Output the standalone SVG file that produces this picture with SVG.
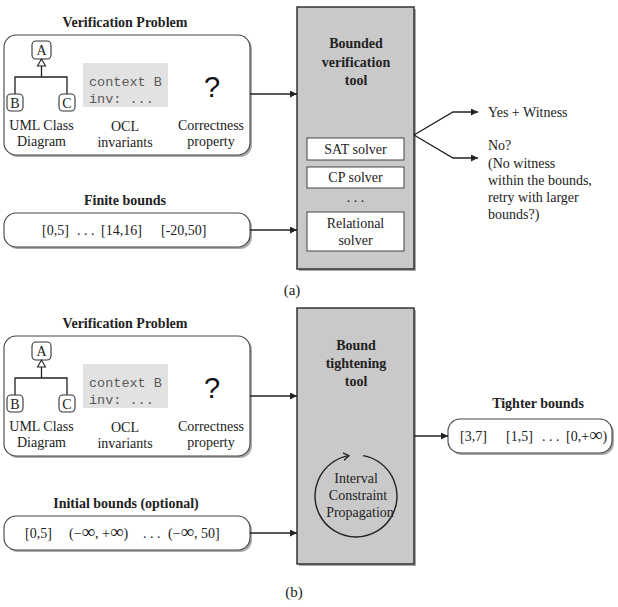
<svg xmlns="http://www.w3.org/2000/svg" width="618" height="607" viewBox="0 0 618 607">
<style>
text{font-family:"Liberation Serif","Times New Roman",serif;font-size:14px;fill:#222}
.b{font-weight:bold}
.m{text-anchor:middle}
.code{font-family:"Liberation Mono","Courier New",monospace;font-size:13.5px;fill:#5a5a5a}
.q{font-family:"Liberation Sans",Arial,sans-serif;font-size:29px;fill:#111}
.inf{font-size:19px}
.rb{fill:#fff;stroke:#444;stroke-width:1.1}
.sh{fill:#aaa}
.cls{fill:#fff;stroke:#333;stroke-width:1.1}
.ln{fill:none;stroke:#222;stroke-width:1.3}
.tool{fill:#c9c9c9;stroke:#333;stroke-width:1.5}
.sv{fill:#fff;stroke:#444;stroke-width:1}
</style>
<defs>
<marker id="ah" markerUnits="userSpaceOnUse" markerWidth="8" markerHeight="8" refX="7" refY="3.5" orient="auto"><path d="M0,0 L7,3.5 L0,7 z" fill="#222"/></marker>
<marker id="oa" markerUnits="userSpaceOnUse" markerWidth="10" markerHeight="10" refX="6" refY="4" orient="auto"><path d="M0,0 L6,4 L0,8" fill="none" stroke="#222" stroke-width="1.3"/></marker>
<g id="vp">
<text class="b m" x="125" y="27">Verification Problem</text>
<rect class="sh" x="6" y="37" width="246" height="120" rx="12"/>
<rect class="rb" x="4" y="35" width="246" height="120" rx="12"/>
<rect class="cls" x="32" y="41" width="19" height="18" rx="4"/>
<text class="m" x="41.5" y="55">A</text>
<path d="M41.5,59 L37.5,66 L45.5,66 z" fill="#fff" stroke="#222" stroke-width="1.1"/>
<path class="ln" d="M41.5,66 V77 M15,94 V77 H67 V94"/>
<rect class="cls" x="7" y="94" width="16" height="17" rx="4"/>
<text class="m" x="15" y="108">B</text>
<rect class="cls" x="59" y="94" width="16" height="17" rx="4"/>
<text class="m" x="67" y="108">C</text>
<rect x="83" y="63" width="85" height="44" fill="#e2e2e2"/>
<text class="code" x="89" y="86">context B</text>
<text class="code" x="89" y="103">inv: ...</text>
<text class="q m" x="212" y="97">?</text>
<text class="m" x="41.5" y="130">UML Class</text>
<text class="m" x="41.5" y="146">Diagram</text>
<text class="m" x="125" y="131">OCL</text>
<text class="m" x="125" y="147">invariants</text>
<text class="m" x="211" y="130">Correctness</text>
<text class="m" x="211" y="146">property</text>
</g>
</defs>

<g id="verification-problem-a"><use href="#vp"/></g>

<g id="finite-bounds">
<text class="b m" x="125" y="205">Finite bounds</text>
<rect class="sh" x="6" y="215" width="246" height="34" rx="12"/>
<rect class="rb" x="4" y="213" width="246" height="34" rx="12"/>
<text x="42" y="235">[0,5]</text>
<text x="77" y="235">. . .</text>
<text x="101" y="235">[14,16]</text>
<text x="161" y="235">[-20,50]</text>
</g>

<g id="bounded-verification-tool">
<rect class="sh" x="299" y="9" width="117" height="262"/>
<rect class="tool" x="297" y="7" width="117" height="262"/>
<text class="b m" x="356" y="48">Bounded</text>
<text class="b m" x="356" y="67">verification</text>
<text class="b m" x="356" y="85">tool</text>
<rect class="sv" x="307" y="138" width="97" height="22"/>
<text class="m" x="355.5" y="154">SAT solver</text>
<rect class="sv" x="307" y="167" width="97" height="21"/>
<text class="m" x="355.5" y="182">CP solver</text>
<text class="m" x="355.5" y="202">. . .</text>
<rect class="sv" x="307" y="212" width="97" height="39"/>
<text class="m" x="355.5" y="228">Relational</text>
<text class="m" x="355.5" y="245">solver</text>
</g>

<g id="outputs-a">
<text x="488" y="117">Yes + Witness</text>
<text x="488" y="150">No?</text>
<text x="488" y="168">(No witness</text>
<text x="488" y="185">within the bounds,</text>
<text x="488" y="202">retry with larger</text>
<text x="488" y="219">bounds?)</text>
</g>

<text class="m" x="292" y="295" style="font-size:15px">(a)</text>

<g id="verification-problem-b"><use href="#vp" transform="translate(0,301)"/></g>

<g id="initial-bounds">
<text class="b m" x="126" y="508">Initial bounds (optional)</text>
<rect class="sh" x="6" y="518" width="246" height="34" rx="12"/>
<rect class="rb" x="4" y="516" width="246" height="34" rx="12"/>
<text x="25" y="538">[0,5]</text>
<text x="69" y="538">(−<tspan class="inf">∞</tspan>, +<tspan class="inf">∞</tspan>)</text>
<text x="143" y="538">. . .</text>
<text x="168" y="538">(−<tspan class="inf">∞</tspan>, 50]</text>
</g>

<g id="bound-tightening-tool">
<rect class="sh" x="299" y="310" width="117" height="256"/>
<rect class="tool" x="297" y="308" width="117" height="256"/>
<text class="b m" x="356" y="350">Bound</text>
<text class="b m" x="356" y="368">tightening</text>
<text class="b m" x="356" y="386">tool</text>
<path d="M363,455.6 A41,41 0 1 1 349,455.6" fill="none" stroke="#222" stroke-width="1.4" marker-end="url(#oa)"/>
<text class="m" x="356" y="483">Interval</text>
<text class="m" x="358" y="500">Constraint</text>
<text class="m" x="360" y="517">Propagation</text>
</g>

<g id="tighter-bounds">
<text class="b m" x="538" y="408">Tighter bounds</text>
<rect class="sh" x="450" y="421" width="164" height="34" rx="12"/>
<rect class="rb" x="448" y="419" width="164" height="34" rx="12"/>
<text x="460" y="441">[3,7]</text>
<text x="506" y="441">[1,5]</text>
<text x="542" y="441">. . .</text>
<text x="566" y="441">[0,+<tspan class="inf">∞</tspan>)</text>
</g>

<text class="m" x="294" y="597" style="font-size:15px">(b)</text>

<g id="connectors" fill="none" stroke="#222" stroke-width="1.3">
<path d="M250,94 H297" marker-end="url(#ah)"/>
<path d="M250,230 H297" marker-end="url(#ah)"/>
<path d="M414,135 L453,112 H478" marker-end="url(#ah)"/>
<path d="M414,135 L453,158 H478" marker-end="url(#ah)"/>
<path d="M250,396 H297" marker-end="url(#ah)"/>
<path d="M250,533 H297" marker-end="url(#ah)"/>
<path d="M414,436 H448" marker-end="url(#ah)"/>
</g>
</svg>
